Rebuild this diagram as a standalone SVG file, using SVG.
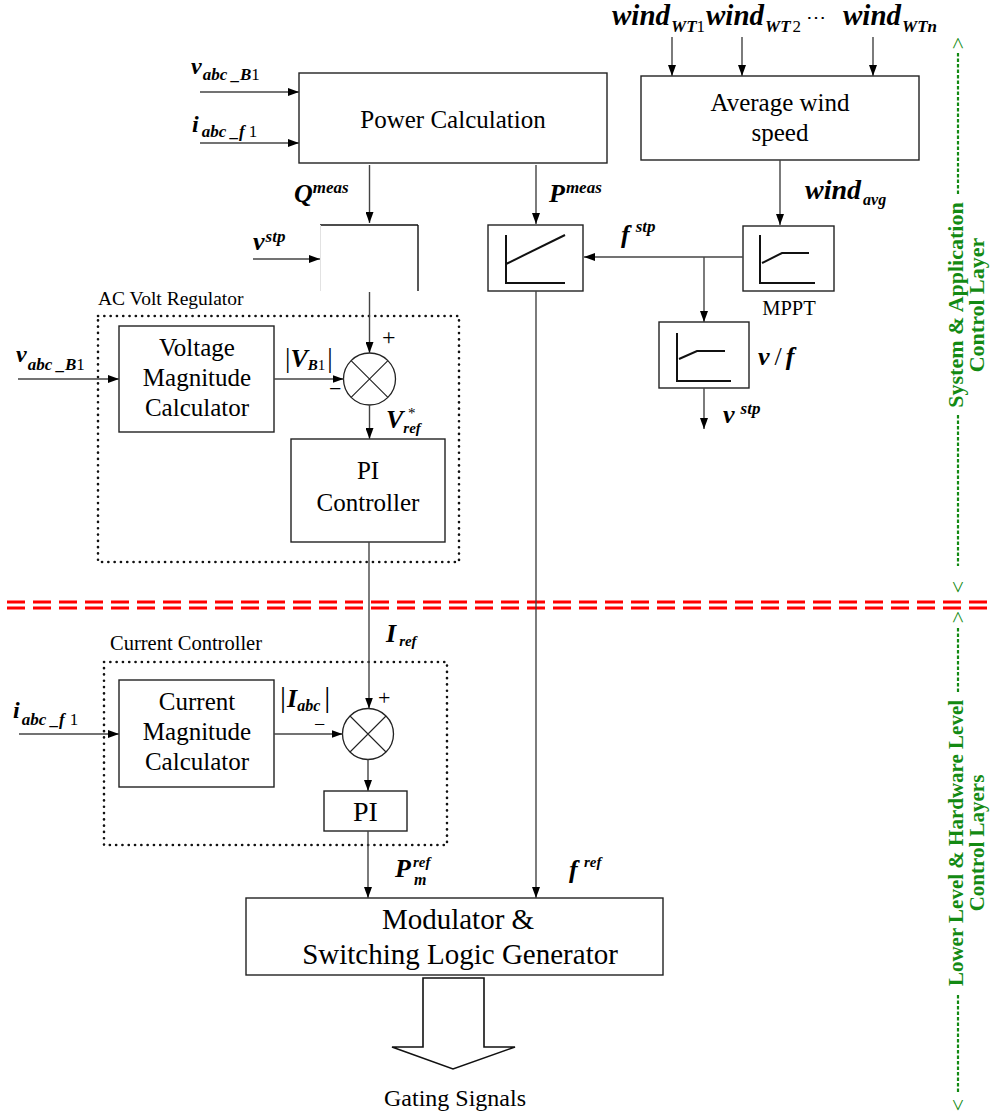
<svg xmlns="http://www.w3.org/2000/svg" width="990" height="1115" viewBox="0 0 990 1115" font-family="'Liberation Serif', 'Times New Roman', Times, 'DejaVu Serif', serif">
<style>
text{font-family:'Liberation Serif','Times New Roman',Times,'DejaVu Serif',serif;fill:#000}
.box{fill:#fff;stroke:#222;stroke-width:1.4}
.dot{fill:none;stroke:#111;stroke-width:2.6;stroke-dasharray:0.1 6.2;stroke-linecap:round}
.ln{fill:none;stroke:#444;stroke-width:1.4}
.ax{fill:none;stroke:#111;stroke-width:2}
.t{font-size:25px;text-anchor:middle}
.bi{font-weight:bold;font-style:italic}
.r{font-weight:normal;font-style:normal}
.grn{fill:#138a13;font-weight:bold}
.chev{fill:#138a13;font-size:22px}
.gl{stroke:#138a13;stroke-width:2.2;stroke-dasharray:3.5 2;fill:none}
.red{stroke:#ff0000;stroke-width:3.2;stroke-dasharray:18 8;fill:none}
</style>
<defs>
<marker id="ah" markerUnits="userSpaceOnUse" markerWidth="11" markerHeight="8" refX="11" refY="4" orient="auto">
<path d="M0,0 L11,4 L0,8 z" fill="#000"/>
</marker>
</defs>
<rect width="990" height="1115" fill="#fff"/>

<g id="separator">
<line class="red" x1="7" y1="602" x2="990" y2="602"/>
<line class="red" x1="7" y1="608" x2="990" y2="608"/>
</g>

<g id="layer-labels">
<line class="gl" x1="958" y1="53" x2="958" y2="195"/>
<line class="gl" x1="958" y1="415" x2="958" y2="566"/>
<line class="gl" x1="958" y1="628" x2="958" y2="692"/>
<line class="gl" x1="958" y1="995" x2="958" y2="1094"/>
<text class="chev" transform="translate(964.5,43) rotate(-90)" text-anchor="middle">&gt;</text>
<text class="chev" transform="translate(964.5,587) rotate(-90)" text-anchor="middle">&lt;</text>
<text class="chev" transform="translate(964.5,617) rotate(-90)" text-anchor="middle">&gt;</text>
<text class="chev" transform="translate(964.5,1105) rotate(-90)" text-anchor="middle">&lt;</text>
<text class="grn" font-size="22" transform="translate(963,305) rotate(-90)" text-anchor="middle">System &amp; Application</text>
<text class="grn" font-size="22" transform="translate(984,305) rotate(-90)" text-anchor="middle">Control Layer</text>
<text class="grn" font-size="21" transform="translate(963,843) rotate(-90)" text-anchor="middle">Lower Level  &amp; Hardware Level</text>
<text class="grn" font-size="21" transform="translate(984,843) rotate(-90)" text-anchor="middle">Control Layers</text>
</g>

<g id="ac-volt-regulator">
<rect class="dot" x="98" y="316" width="361" height="246"/>
<text x="98" y="305" font-size="19.5">AC Volt Regulator</text>
</g>
<g id="current-controller">
<rect class="dot" x="104" y="662" width="343" height="183"/>
<text x="110" y="650" font-size="20.5">Current Controller</text>
</g>

<g id="power-calculation">
<rect class="box" x="299" y="73" width="308" height="90"/>
<text class="t" x="453" y="128">Power Calculation</text>
</g>
<g id="average-wind-speed">
<rect class="box" x="641" y="76" width="278" height="84"/>
<text class="t" x="780" y="111">Average wind</text>
<text class="t" x="780" y="141">speed</text>
</g>
<g id="q-block">
<line x1="320" y1="225" x2="418" y2="225" stroke="#111" stroke-width="1.4"/>
<line x1="418" y1="225" x2="418" y2="291" stroke="#111" stroke-width="1.4"/>
<line x1="320.5" y1="225" x2="320.5" y2="291" stroke="#e2e2e2" stroke-width="1"/>
</g>
<g id="p-droop">
<rect class="box" x="488" y="225" width="95" height="66"/>
<polyline class="ax" points="506,235 506,283 565,283"/>
<line class="ax" x1="506" y1="264" x2="565" y2="235"/>
</g>
<g id="mppt">
<rect class="box" x="743" y="226" width="91" height="65"/>
<polyline class="ax" points="760,235 760,283 815,283"/>
<polyline class="ax" points="762,263 782,253 809,253"/>
<text x="789" y="315" font-size="20.5" text-anchor="middle">MPPT</text>
</g>
<g id="v-f">
<rect class="box" x="659" y="322" width="90" height="66"/>
<polyline class="ax" points="677,333 677,381 731,381"/>
<polyline class="ax" points="679,359 697,351 725,351"/>
</g>
<g id="voltage-magnitude-calculator">
<rect class="box" x="119" y="326" width="155" height="106"/>
<text class="t" x="197" y="356">Voltage</text>
<text class="t" x="197" y="386">Magnitude</text>
<text class="t" x="197" y="416">Calculator</text>
</g>
<g id="sum-v">
<circle cx="369.5" cy="379" r="26" fill="#fff" stroke="#222" stroke-width="1.3"/>
<path d="M351.1,360.6 L387.9,397.4 M387.9,360.6 L351.1,397.4" stroke="#222" stroke-width="1.1"/>
</g>
<g id="pi-controller">
<rect class="box" x="291" y="439" width="154" height="103"/>
<text class="t" x="368" y="479">PI</text>
<text class="t" x="368" y="511">Controller</text>
</g>
<g id="current-magnitude-calculator">
<rect class="box" x="119" y="680" width="155" height="107"/>
<text class="t" x="197" y="710">Current</text>
<text class="t" x="197" y="740">Magnitude</text>
<text class="t" x="197" y="770">Calculator</text>
</g>
<g id="sum-i">
<circle cx="368" cy="734" r="25.5" fill="#fff" stroke="#222" stroke-width="1.3"/>
<path d="M350,716 L386,752 M386,716 L350,752" stroke="#222" stroke-width="1.1"/>
</g>
<g id="pi">
<rect class="box" x="324" y="791" width="83" height="40"/>
<text x="365.5" y="821" font-size="28" text-anchor="middle">PI</text>
</g>
<g id="modulator">
<rect class="box" x="246" y="898" width="417" height="77"/>
<text x="458" y="929" font-size="29" text-anchor="middle">Modulator &amp;</text>
<text x="460" y="964" font-size="29" text-anchor="middle">Switching Logic Generator</text>
</g>
<g id="gating-signals">
<polygon points="423,978 423,1047 392,1047 453,1069 515,1047 484,1047 484,978" fill="#fff" stroke="#111" stroke-width="1.6"/>
<text x="455" y="1106" font-size="24" text-anchor="middle">Gating Signals</text>
</g>

<g id="connectors" class="ln">
<line x1="200" y1="92" x2="299" y2="92" marker-end="url(#ah)"/>
<line x1="200" y1="143" x2="299" y2="143" marker-end="url(#ah)"/>
<line x1="369.5" y1="165" x2="369.5" y2="223" marker-end="url(#ah)"/>
<line x1="536" y1="165" x2="536" y2="224" marker-end="url(#ah)"/>
<line x1="253" y1="259" x2="320" y2="259" marker-end="url(#ah)"/>
<line x1="369.5" y1="292" x2="369.5" y2="353" marker-end="url(#ah)"/>
<line x1="672" y1="37" x2="672" y2="76" marker-end="url(#ah)"/>
<line x1="742" y1="37" x2="742" y2="76" marker-end="url(#ah)"/>
<line x1="873" y1="37" x2="873" y2="76" marker-end="url(#ah)"/>
<line x1="780" y1="160" x2="780" y2="225" marker-end="url(#ah)"/>
<line x1="743" y1="257" x2="584" y2="257" marker-end="url(#ah)"/>
<line x1="704" y1="257" x2="704" y2="322" marker-end="url(#ah)"/>
<line x1="704" y1="388" x2="704" y2="429" marker-end="url(#ah)"/>
<line x1="536" y1="291" x2="536" y2="898" marker-end="url(#ah)"/>
<line x1="18" y1="379" x2="119" y2="379" marker-end="url(#ah)"/>
<line x1="274" y1="379" x2="343.5" y2="379" marker-end="url(#ah)"/>
<line x1="369.5" y1="405" x2="369.5" y2="439" marker-end="url(#ah)"/>
<line x1="369" y1="542" x2="369" y2="708.5" marker-end="url(#ah)"/>
<line x1="19" y1="734" x2="119" y2="734" marker-end="url(#ah)"/>
<line x1="274" y1="734" x2="342.5" y2="734" marker-end="url(#ah)"/>
<line x1="368" y1="759.5" x2="368" y2="791" marker-end="url(#ah)"/>
<line x1="368" y1="831" x2="368" y2="898" marker-end="url(#ah)"/>
</g>

<g id="labels">
<text x="191" y="74" font-size="24" class="bi">v<tspan font-size="17" dy="6" dx="1">abc _B</tspan><tspan class="r" font-size="17">1</tspan></text>
<text x="192" y="132" font-size="24" class="bi">i<tspan font-size="17" dy="5" dx="3">abc _f</tspan><tspan class="r" font-size="17" dx="4">1</tspan></text>
<text x="294" y="202" font-size="26" class="bi">Q<tspan font-size="17" dy="-9">meas</tspan></text>
<text x="549" y="202" font-size="26" class="bi">P<tspan font-size="17" dy="-9" dx="1">meas</tspan></text>
<text x="253" y="250" font-size="26" class="bi">v<tspan font-size="17" dy="-8" dx="1">stp</tspan></text>
<text x="621" y="243" font-size="26" class="bi">f<tspan font-size="17" dy="-11" dx="6">stp</tspan></text>
<text x="612" y="25" font-size="29" class="bi">wind<tspan font-size="17" dy="7" dx="1">WT</tspan><tspan class="r" font-size="17">1</tspan></text>
<text x="706" y="25" font-size="29" class="bi">wind<tspan font-size="17" dy="7" dx="1">WT</tspan><tspan class="r" font-size="17" dx="2">2</tspan></text>
<text x="806" y="24" font-size="20" font-family="DejaVu Serif, serif">⋯</text>
<text x="843" y="25" font-size="29" class="bi">wind<tspan font-size="17" dy="7" dx="1">WTn</tspan></text>
<text x="805" y="199" font-size="28" class="bi">wind<tspan font-size="16" dy="6" dx="2">avg</tspan></text>
<text x="758" y="365" font-size="26" class="bi">v<tspan class="r" dx="5">/</tspan><tspan dx="4">f</tspan></text>
<text x="723" y="423" font-size="26" class="bi">v<tspan font-size="17" dy="-9" dx="6">stp</tspan></text>
<text x="16" y="362" font-size="24" class="bi">v<tspan font-size="17" dy="8" dx="1">abc _B</tspan><tspan class="r" font-size="17">1</tspan></text>
<text x="13" y="718" font-size="24" class="bi">i<tspan font-size="17" dy="7" dx="2">abc _f</tspan><tspan class="r" font-size="17" dx="5">1</tspan></text>
<text x="285" y="367" font-size="27">|<tspan class="bi" font-size="26">V</tspan><tspan class="bi" font-size="15" dy="3">B</tspan><tspan font-size="15">1</tspan><tspan dy="-3" dx="2">|</tspan></text>
<text x="329" y="396" font-size="22">−</text>
<text x="382" y="345" font-size="24">+</text>
<text x="386" y="428" font-size="26" class="bi">V<tspan font-size="15" dy="5">ref</tspan></text>
<text x="408" y="418" font-size="15">*</text>
<text x="386" y="642" font-size="26" class="bi">I<tspan font-size="15" dy="4" dx="3">ref</tspan></text>
<text x="280" y="707" font-size="30">|<tspan class="bi" font-size="26" dx="1">I</tspan><tspan class="bi" font-size="16" dy="4">abc</tspan><tspan dy="-4" dx="4">|</tspan></text>
<text x="314" y="731" font-size="20">−</text>
<text x="378" y="705" font-size="22">+</text>
<text x="395" y="877" font-size="26" class="bi">P</text>
<text x="413" y="867" font-size="15" class="bi">ref</text>
<text x="414" y="885" font-size="16" class="bi">m</text>
<text x="569" y="878" font-size="26" class="bi">f</text>
<text x="584" y="867" font-size="15" class="bi">ref</text>
</g>
</svg>
